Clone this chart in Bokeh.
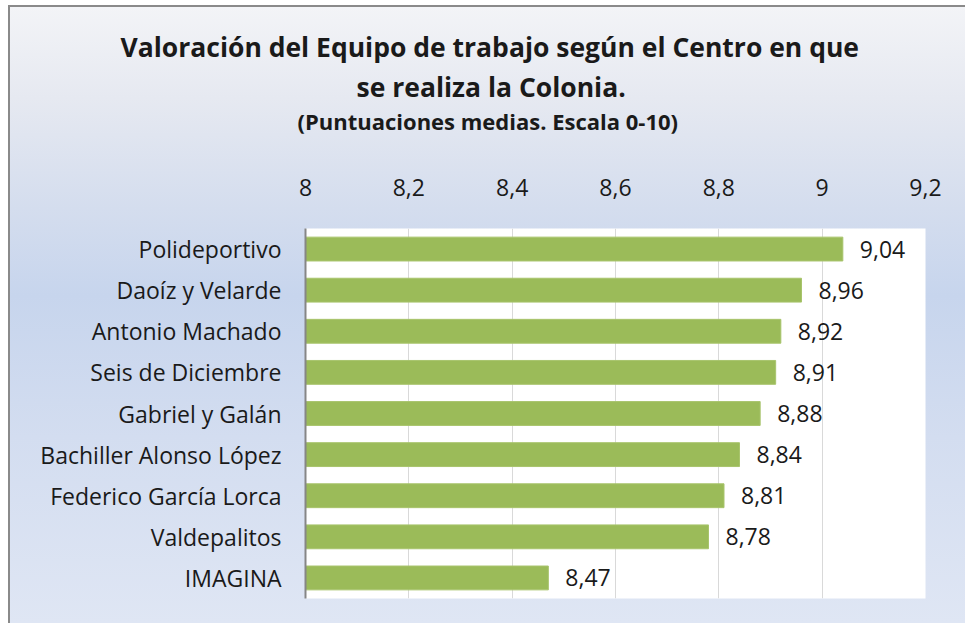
from bokeh.plotting import figure
from bokeh.models import FactorRange, Range1d, FixedTicker, Title, ColumnDataSource
from bokeh.core.properties import value
from bokeh.embed import file_html
from bokeh.resources import INLINE

# ---- data ----
centros = ["Polideportivo", "Daoíz y Velarde", "Antonio Machado", "Seis de Diciembre",
           "Gabriel y Galán", "Bachiller Alonso López", "Federico García Lorca",
           "Valdepalitos", "IMAGINA"]
puntuaciones = [9.04, 8.96, 8.92, 8.91, 8.88, 8.84, 8.81, 8.78, 8.47]
x_ticks = [8.0, 8.2, 8.4, 8.6, 8.8, 9.0, 9.2]
x_tick_labels = ["8", "8,2", "8,4", "8,6", "8,8", "9", "9,2"]
title_line1 = "Valoración del Equipo de trabajo según el Centro en que"
title_line2 = "se realiza la Colonia."
subtitle = "(Puntuaciones medias. Escala 0-10)"

FONT = "Open Sans"
TXT = "#1a1a1a"

src = ColumnDataSource(dict(
    y=centros,
    v=puntuaciones,
    lbl=[f"{v:.2f}".replace(".", ",") for v in puntuaciones],
))

p = figure(
    width=957, height=618,
    y_range=FactorRange(factors=list(reversed(centros))),
    x_range=Range1d(8.0, 9.2),
    x_axis_location="above",
    output_backend="svg", toolbar_location=None,
    min_border_left=297, min_border_top=223, min_border_right=40, min_border_bottom=25,
)
p.styles = {
    "background": "linear-gradient(180deg, #f3f4f7 0%, #e6e9f1 15%, #d4ddee 33%, #c7d5ed 47%, #d3ddf0 70%, #dfe6f4 100%)",
    "box-shadow": "inset 2px 2px 0 #8a8a8a",
    "margin-top": "5px",
    "margin-left": "8px",
}
p.border_fill_color = None
p.background_fill_color = "white"
p.outline_line_color = None

p.hbar(y="y", left=8.0, right="v", height=0.58, source=src,
       fill_color="#9bbb59", line_color="#a8c46c", line_width=1)

p.text(x="v", y="y", text="lbl", source=src, x_offset=17,
       text_baseline="middle", text_align="left",
       text_font=value(FONT), text_font_size="23px", text_color=TXT)

# x axis (top)
xa = p.xaxis[0]
xa.ticker = FixedTicker(ticks=x_ticks)
xa.major_label_overrides = {t: l for t, l in zip(x_ticks, x_tick_labels)}
xa.axis_line_color = None
xa.major_tick_line_color = None
xa.minor_tick_line_color = None
xa.major_tick_out = 0
xa.major_tick_in = 0
xa.major_label_standoff = 33
xa.major_label_text_font = FONT
xa.major_label_text_font_size = "23px"
xa.major_label_text_color = TXT

# y axis (categories)
ya = p.yaxis[0]
ya.axis_line_color = "#868686"
ya.axis_line_width = 2
ya.major_tick_line_color = None
ya.major_tick_out = 0
ya.major_tick_in = 0
ya.major_label_standoff = 24
ya.major_label_text_font = FONT
ya.major_label_text_font_size = "23px"
ya.major_label_text_color = TXT

p.xgrid.ticker = FixedTicker(ticks=x_ticks)
p.xgrid.grid_line_color = "#d9d9d9"
p.xgrid.grid_line_width = 1
p.ygrid.grid_line_color = None

# titles (stacked above the axis), left-aligned with offsets so they centre on the chart
spacer = Title(text=" ", text_font_size="1px", standoff=38)
t_sub = Title(text=subtitle, align="left", offset=-8, vertical_align="middle", standoff=-4,
              text_font=FONT, text_font_style="bold", text_font_size="22px", text_color=TXT)
t_l2 = Title(text=title_line2, align="left", offset=51, vertical_align="middle", standoff=2,
             text_font=FONT, text_font_style="bold", text_font_size="26.5px", text_color=TXT)
t_l1 = Title(text=title_line1, align="left", offset=-185, vertical_align="middle", standoff=2,
             text_font=FONT, text_font_style="bold", text_font_size="26.5px", text_color=TXT)
for t in (spacer, t_sub, t_l2, t_l1):
    p.add_layout(t, "above")

open("out.html", "w").write(file_html(p, INLINE))
